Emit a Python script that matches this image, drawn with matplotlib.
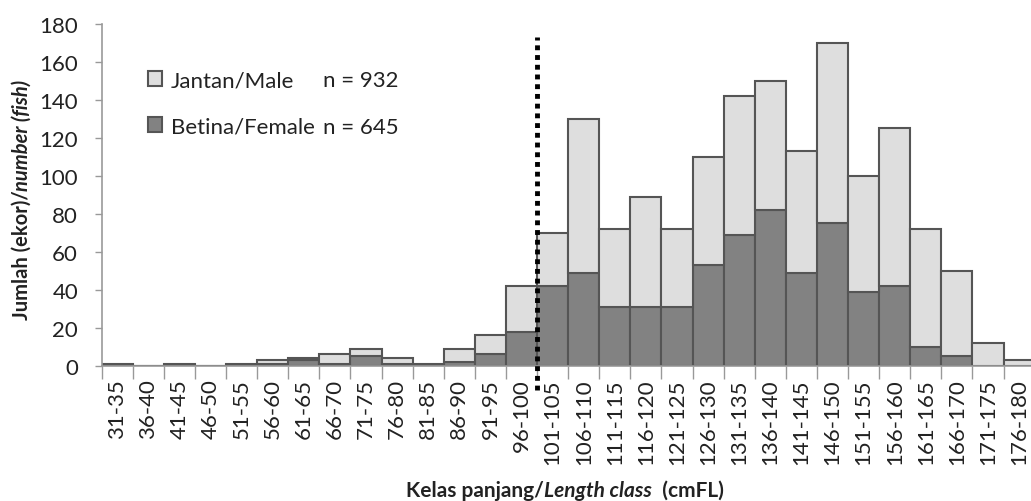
import numpy as np
import matplotlib
matplotlib.use('Agg')
import matplotlib.pyplot as plt
from matplotlib.patches import Patch

plt.rcParams['font.family'] = ['Lato', 'DejaVu Sans']

classes = ['31-35', '36-40', '41-45', '46-50', '51-55', '56-60', '61-65', '66-70',
           '71-75', '76-80', '81-85', '86-90', '91-95', '96-100', '101-105', '106-110',
           '111-115', '116-120', '121-125', '126-130', '131-135', '136-140', '141-145',
           '146-150', '151-155', '156-160', '161-165', '166-170', '171-175', '176-180']
total = [1, 0, 1, 0, 1, 3, 4, 6, 9, 4, 1, 9, 16, 42, 70, 130, 72, 89, 72, 110,
         142, 150, 113, 170, 100, 125, 72, 50, 12, 3]
female = [0, 0, 0, 0, 0, 1, 3, 1, 5, 1, 0, 2, 6, 18, 42, 49, 31, 31, 31, 53,
          69, 82, 49, 75, 39, 42, 10, 5, 0, 0]
male = [t - f for t, f in zip(total, female)]
n_male = 932
n_female = 645
maturity_cut = 13.5  # between 96-100 and 101-105

W, H = 1031, 502
fig = plt.figure(figsize=(W / 100, H / 100), dpi=100)
ax = fig.add_axes([101.7 / W, (H - 366.7) / H, 933 / W, 341.7 / H])

x = np.arange(len(classes))
edge = '#555555'
ax.bar(x, female, width=1, color='#828282', edgecolor=edge, linewidth=1.5)
ax.bar(x, male, bottom=female, width=1, color='#dedede', edgecolor=edge, linewidth=1.5)

ax.plot([maturity_cut, maturity_cut], [-13, 173], color='black', linestyle=(0, (1, 1)),
        linewidth=3.5, clip_on=False, zorder=5)

ax.set_xlim(-0.5, len(classes) - 0.5)
ax.set_ylim(0, 180)
ax.set_yticks(range(0, 181, 20))
ax.set_xticks(np.arange(-0.5, len(classes), 1))
ax.set_xticklabels([])
ax.set_xticks(x, minor=True)
ax.set_xticklabels(classes, minor=True, rotation=90, fontsize=16, color='#222222')
ax.tick_params(axis='x', which='major', length=9, width=1, color='#999999', direction='out')
ax.tick_params(axis='x', which='minor', length=0, pad=9)
ax.tick_params(axis='y', length=5, width=1, color='#999999', labelsize=16, pad=12,
               labelcolor='#222222')

for s in ['top', 'right']:
    ax.spines[s].set_visible(False)
for s in ['left', 'bottom']:
    ax.spines[s].set_color('#999999')
    ax.spines[s].set_linewidth(1.2)

handles = [Patch(facecolor='#dedede', edgecolor=edge, linewidth=1.5),
           Patch(facecolor='#828282', edgecolor=edge, linewidth=1.5)]
leg = ax.legend(handles, ['Jantan/Male', 'Betina/Female'], loc='upper left',
                bbox_to_anchor=(46 / 933, (366.7 - 71) / 341.7), frameon=False,
                fontsize=16, labelspacing=1.2, handlelength=0.65, handleheight=0.65,
                handletextpad=0.4, borderpad=0, borderaxespad=0)
for t in leg.get_texts():
    t.set_color('#222222')

fig.canvas.draw()
r = fig.canvas.get_renderer()
inv = fig.transFigure.inverted()
labs = leg.get_texts()
for lab, n in zip(labs, [n_male, n_female]):
    bb = lab.get_window_extent(r)
    yc = (bb.y0 + bb.y1) / 2
    fx, fy = inv.transform((323, yc))
    fig.text(fx, fy, 'n = %d' % n, fontsize=16, color='#222222', va='center', ha='left')

# y label: bold + bold italic pieces, rotated
t1 = fig.text(22 / W, 0.0, 'Jumlah (ekor)/', rotation=90, fontsize=14.5,
              fontweight='bold', ha='center', va='bottom', color='#222222')
t2 = fig.text(22 / W, 0.0, 'number (fish)', rotation=90, fontsize=14.5,
              fontweight='bold', style='italic', ha='center', va='bottom', color='#222222')
fig.canvas.draw()
h1 = t1.get_window_extent(r).height
h2 = t2.get_window_extent(r).height
ymid = H - 200
start = ymid - (h1 + h2) / 2
t1.set_y(start / H)
t2.set_y((start + h1) / H)

# x label
parts = [('Kelas panjang/', 'normal'), ('Length class', 'italic'), ('  (cmFL)', 'normal')]
texts = []
for s, st in parts:
    texts.append(fig.text(0, 11 / H, s, fontsize=15, fontweight='bold', style=st,
                          ha='left', va='center', color='#222222'))
fig.canvas.draw()
widths = [t.get_window_extent(r).width for t in texts]
xs = 565 - sum(widths) / 2
for t, w in zip(texts, widths):
    t.set_x(xs / W)
    xs += w

fig.savefig('out.png', dpi=100)
